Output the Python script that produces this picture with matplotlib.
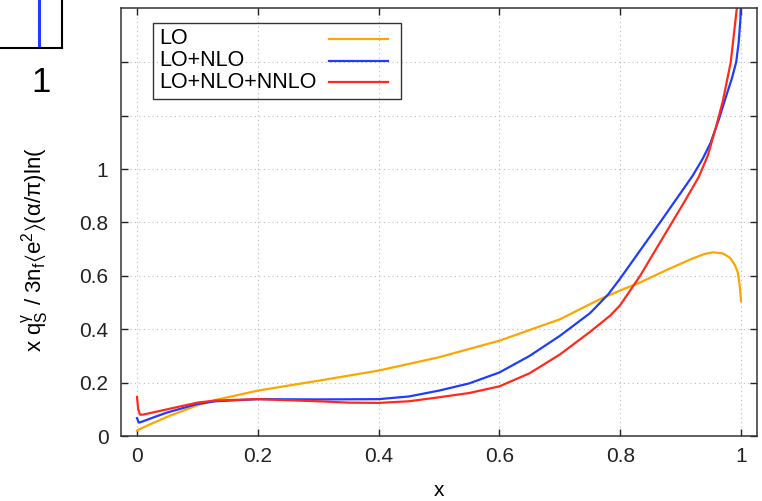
import matplotlib
matplotlib.use('Agg')
import matplotlib.pyplot as plt
from matplotlib.patches import Rectangle
from matplotlib.lines import Line2D

plt.rcParams['font.family'] = ['Liberation Sans', 'DejaVu Sans']
plt.rcParams['mathtext.fontset'] = 'custom'
plt.rcParams['mathtext.rm'] = 'Liberation Sans'
plt.rcParams['mathtext.it'] = 'Liberation Sans'
plt.rcParams['mathtext.fallback'] = 'stixsans'

# data
x_lo = [0, 0.005, 0.02, 0.05, 0.1, 0.13, 0.2, 0.3, 0.4, 0.5, 0.6, 0.7, 0.767, 0.8,
        0.833, 0.877, 0.92, 0.94, 0.954, 0.97, 0.982, 0.99, 0.995, 0.998, 1.0]
y_lo = [0.02, 0.026, 0.042, 0.072, 0.115, 0.135, 0.17, 0.207, 0.245, 0.295, 0.357,
        0.437, 0.513, 0.545, 0.575, 0.622, 0.665, 0.682, 0.688, 0.684, 0.667, 0.64,
        0.61, 0.56, 0.505]

x_nlo = [0, 0.003, 0.01, 0.03, 0.05, 0.1, 0.13, 0.2, 0.3, 0.4, 0.45, 0.5, 0.55, 0.6,
         0.65, 0.7, 0.75, 0.78, 0.8, 0.833, 0.866, 0.9, 0.92, 0.937, 0.95, 0.964,
         0.975, 0.985, 0.992, 0.996, 0.999, 1.0]
y_nlo = [0.067, 0.05, 0.055, 0.072, 0.088, 0.12, 0.13, 0.138, 0.137, 0.138, 0.148, 0.17,
         0.197, 0.238, 0.3, 0.375, 0.46, 0.53, 0.59, 0.695, 0.8, 0.91, 0.975, 1.04, 1.1,
         1.19, 1.27, 1.34, 1.4, 1.47, 1.56, 1.65]

x_nnlo = [0, 0.002, 0.005, 0.01, 0.03, 0.05, 0.1, 0.13, 0.2, 0.3, 0.35, 0.4, 0.45, 0.5,
          0.55, 0.6, 0.65, 0.7, 0.75, 0.783, 0.8, 0.833, 0.866, 0.907, 0.93, 0.945,
          0.959, 0.97, 0.983, 0.993, 0.998]
y_nnlo = [0.146, 0.1, 0.08, 0.08, 0.09, 0.1, 0.125, 0.133, 0.138, 0.13, 0.125, 0.124, 0.13,
          0.145, 0.161, 0.186, 0.235, 0.305, 0.39, 0.45, 0.49, 0.6, 0.725, 0.88, 0.97,
          1.05, 1.16, 1.255, 1.4, 1.6, 1.75]

labels = ['LO', 'LO+NLO', 'LO+NLO+NNLO']
colors = ['#ffa500', '#1f3cff', '#ff2a1a']

xticks = [0, 0.2, 0.4, 0.6, 0.8, 1]
xticklabels = ['0', '0.2', '0.4', '0.6', '0.8', '1']
yticks = [0, 0.2, 0.4, 0.6, 0.8, 1, 1.2, 1.4]
yticklabels = ['0', '0.2', '0.4', '0.6', '0.8', '1', '', '']

# inset fragment (top-left)
inset_x = [0.999, 0.999]
inset_y = [0, 1]

W, H = 762, 501
fig = plt.figure(figsize=(W / 100, H / 100), dpi=100)

# main axes, pixel box 121..757 x 8..436
ax = fig.add_axes([121 / W, 1 - 436 / H, 636 / W, 428 / H])
for xs, ys, c in zip([x_lo, x_nlo, x_nnlo], [y_lo, y_nlo, y_nnlo], colors):
    ax.plot(xs, ys, color=c, lw=1.6, solid_joinstyle='round')

ax.set_xlim(-0.0265, 1.0265)
ax.set_ylim(0, 1.603)
ax.set_xticks(xticks)
ax.set_xticklabels(xticklabels)
ax.set_yticks(yticks)
ax.set_yticklabels(yticklabels)
ax.tick_params(direction='in', length=5, width=1, top=True, right=True,
               labelsize=15, colors='#222222')
ax.tick_params(axis='x', pad=8)
ax.tick_params(axis='y', pad=9)
ax.grid(True, linestyle=(0, (1, 3)), color='#bbbbbb', lw=0.8)
for s in ax.spines.values():
    s.set_linewidth(1.1)
    s.set_color('#333333')
ax.set_xlabel('x', fontsize=15, labelpad=11)

# legend box drawn by hand (text left, sample right, like gnuplot)
ax.add_patch(Rectangle((32 / 636, (436 - 99) / 428), 248 / 636, 76 / 428,
                       transform=ax.transAxes, fill=False, lw=1, ec='#333333', zorder=5))
for i, (lab, c) in enumerate(zip(labels, colors)):
    yy = (436 - (39 + 21.6 * i)) / 428
    ax.text(38 / 636, yy, lab, transform=ax.transAxes, fontsize=15.5,
            va='center', ha='left', zorder=6)
    ax.add_line(Line2D([208 / 636, 267 / 636], [yy, yy], transform=ax.transAxes,
                       color=c, lw=1.6, zorder=6))

# y label (cut off by the inset panel above)
fig.text(35 / W, 1 - 352 / H,
         r'x q$_\mathregular{S}^{\gamma}$ / 3n$_\mathregular{f}$$\langle$e$^\mathregular{2}$$\rangle$($\alpha/\pi$)ln(Q$^\mathregular{2}$/$\mu^\mathregular{2}$)',
         rotation=90, ha='center', va='bottom', fontsize=16, zorder=1)

# white panel of the neighbouring inset plot
fig.add_artist(Rectangle((0, 1 - 150 / H), 118 / W, 150 / H, transform=fig.transFigure,
                         fc='white', ec='none', zorder=5))

iax = fig.add_axes([-169 / W, 1 - 48 / H, 231 / W, 0.2], zorder=6)
iax.plot(inset_x, inset_y, color=colors[1], lw=2.2)
iax.set_xlim(0.9, 1.01)
iax.set_ylim(0, 1)
iax.set_xticks([1])
iax.set_xticklabels(['1'])
iax.set_yticks([])
iax.tick_params(length=0, labelsize=25, pad=13)
for s in iax.spines.values():
    s.set_linewidth(1.5)
    s.set_color('black')

fig.savefig('out.png', dpi=100)
